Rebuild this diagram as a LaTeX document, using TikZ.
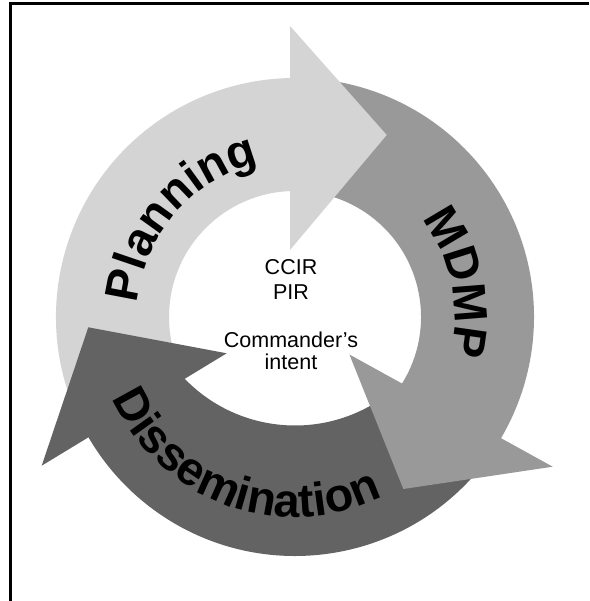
\documentclass[tikz,border=0pt]{standalone}
\usepackage{fontspec}
\setmainfont{Liberation Sans}
\usetikzlibrary{calc,decorations.text}
\definecolor{planc}{gray}{0.83}
\definecolor{mdmpc}{gray}{0.60}
\definecolor{dissc}{gray}{0.39}
\newcommand\arrowlabelfont{\fontsize{47}{50}\selectfont\bfseries}
\begin{document}
\begin{tikzpicture}[x=1pt,y=1pt,
  smalltxt/.style={font=\fontsize{21.5}{24}\selectfont, inner sep=0pt, anchor=base},
  curvedlabel/.style={decorate, decoration={text along path, text align=center, text color=black, text={|\arrowlabelfont|#1}}}]
\useasboundingbox (0,0) rectangle (589,601);
\fill[white] (0,0) rectangle (589,601);
\draw[line width=3pt] (589,597) -- (10.5,597) -- (10.5,0);
\coordinate (C) at (295,284);
\coordinate (C2) at (295,329);
% arrow bodies
\fill[planc] ($(C)+(206:239pt)$) arc[start angle=206,end angle=87,radius=239pt]
  -- ($(C)+(87:126pt)$) arc[start angle=87,end angle=206,radius=126pt] -- cycle;
\fill[mdmpc] ($(C)+(87:239pt)$) arc[start angle=87,end angle=-37,radius=239pt]
  -- ($(C)+(-37:126pt)$) arc[start angle=-37,end angle=87,radius=126pt] -- cycle;
\fill[dissc] ($(C)+(-37:239pt)$) arc[start angle=-37,end angle=-154,radius=239pt]
  -- ($(C2)+(220:153.5pt)$) arc[start angle=220,end angle=310,radius=153.5pt] -- cycle;
% arrow heads
\fill[planc] (290,575) -- (386.7,466) -- (290,351) -- cycle;
\fill[mdmpc] (349.4,246.5) -- (403.3,112) -- (552.7,134.3) -- cycle;
\fill[dissc] (88.3,273.7) -- (226.7,247.7) -- (41.7,135.3) -- cycle;
% curved labels
\path[curvedlabel=Planning] ($(C)+(205:158pt)$) arc[start angle=205,end angle=73,radius=158pt];
\path[curvedlabel=MDMP] ($(C)+(62:160pt)$) arc[start angle=62,end angle=-38,radius=160pt];
\path[curvedlabel=Dissemination] ($(C)+(190:200pt)$) arc[start angle=190,end angle=310,radius=200pt];
% centre text
\node[smalltxt] (ccir) at (291,326) {CCIR};
\node[smalltxt] (pir) at (291,301.7) {PIR};
\node[smalltxt] (cmd) at (291,253.7) {Commander’s};
\node[smalltxt] (intent) at (291,231) {intent};
\end{tikzpicture}
\end{document}
